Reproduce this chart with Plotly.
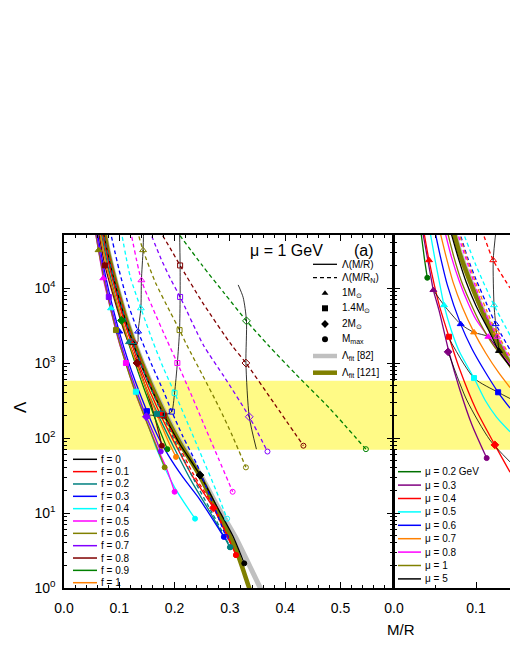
import plotly.graph_objects as go

# ---------------- DATA ----------------
# Left panel (mu = 1 GeV): Lambda vs M/R (solid) and vs M/R_N (dashed) for DM fraction f
F_LABELS = ["f = 0", "f = 0.1", "f = 0.2", "f = 0.3", "f = 0.4", "f = 0.5",
            "f = 0.6", "f = 0.7", "f = 0.8", "f = 0.9", "f = 1"]
F_COLORS = ["#000000", "#FF0000", "#008080", "#0000FF", "#00FFFF", "#FF00FF",
            "#808000", "#8000FF", "#800000", "#008000", "#FF8000"]

F00_X = [0.070, 0.080, 0.090, 0.100, 0.115, 0.130, 0.150, 0.170, 0.190, 0.210, 0.246, 0.280, 0.305, 0.326]
F00_L = [60000, 26900, 13300, 7060, 3050, 1460, 620, 293, 150, 82, 32, 11, 5, 2.13]
F01_X = [0.068, 0.080, 0.095, 0.115, 0.140, 0.170, 0.200, 0.230, 0.270, 0.311]
F01_L = [60000, 22900, 8200, 2600, 790, 240, 86, 33, 11.7, 2.75]
F02_X = [0.066, 0.080, 0.095, 0.115, 0.140, 0.170, 0.200, 0.230, 0.265, 0.300]
F02_L = [60000, 19000, 6800, 2160, 660, 205, 72, 27, 10, 3.5]
F03_X = [0.0593, 0.070, 0.080, 0.090, 0.100, 0.115, 0.130, 0.150, 0.170, 0.188, 0.215, 0.246, 0.289]
F03_L = [60000, 22100, 9900, 4900, 2600, 1120, 540, 228, 105, 60, 30, 15, 4.8]
F04_X = [0.0567, 0.065, 0.075, 0.085, 0.100, 0.115, 0.130, 0.150, 0.168, 0.200, 0.237]
F04_L = [60000, 26500, 11200, 5370, 2000, 865, 414, 170, 70, 22, 8.4]
F05_X = [0.056, 0.065, 0.071, 0.080, 0.090, 0.100, 0.112, 0.130, 0.150, 0.170, 0.185, 0.200]
F05_L = [60000, 24500, 13500, 7000, 3480, 1850, 1000, 383, 162, 70, 40, 19.2]
F06_X = [0.0562, 0.0625, 0.075, 0.094, 0.110, 0.130, 0.150, 0.165, 0.182]
F06_L = [60000, 32000, 10700, 2750, 1070, 390, 160, 84, 40.6]
F07_X = [0.0577, 0.065, 0.081, 0.095, 0.110, 0.130, 0.149, 0.162, 0.175]
F07_L = [60000, 29000, 7600, 3000, 1240, 455, 192, 115, 66]
F08_X = [0.0617, 0.074, 0.090, 0.110, 0.132, 0.150, 0.165, 0.177]
F08_L = [60000, 20000, 7500, 2500, 1000, 420, 180, 79]
F09_X = [0.0637, 0.075, 0.090, 0.104, 0.125, 0.145, 0.165, 0.187]
F09_L = [60000, 24000, 8500, 3700, 1200, 450, 180, 71]
F10_X = [0.0642, 0.080, 0.095, 0.115, 0.135, 0.155, 0.175, 0.190, 0.2025]
F10_L = [60000, 16000, 6700, 2150, 820, 350, 155, 86, 56]

D01_X = [0.071, 0.084, 0.100, 0.120, 0.146, 0.176, 0.205, 0.234, 0.272, 0.311]
D02_X = [0.070, 0.085, 0.101, 0.122, 0.148, 0.178, 0.207, 0.236, 0.268, 0.301]
D03_X = [0.083, 0.100, 0.118, 0.134, 0.160, 0.180, 0.195, 0.215, 0.240, 0.265, 0.293]
D03_L = [60000, 17000, 5500, 2630, 900, 420, 225, 105, 45, 16, 4.8]
D04_X = [0.103, 0.120, 0.139, 0.160, 0.180, 0.200, 0.225, 0.250, 0.275, 0.295]
D04_L = [60000, 14000, 5370, 2000, 850, 400, 150, 55, 20, 8.4]
D05_X = [0.120, 0.140, 0.160, 0.185, 0.205, 0.230, 0.255, 0.280, 0.305]
D05_L = [60000, 12700, 5500, 2100, 1000, 380, 140, 52, 19.2]
D06_X = [0.132, 0.143, 0.165, 0.192, 0.209, 0.222, 0.250, 0.280, 0.305, 0.329]
D06_L = [60000, 32000, 12000, 4800, 2750, 1740, 700, 260, 105, 40.6]
D07_X = [0.154, 0.175, 0.192, 0.210, 0.252, 0.290, 0.335, 0.368]
D07_L = [60000, 25000, 13500, 7600, 1740, 650, 192, 66]
D08_X = [0.172, 0.192, 0.210, 0.250, 0.303, 0.329, 0.380, 0.433]
D08_L = [60000, 34000, 20000, 6500, 1740, 1000, 290, 79]
D09_X = [0.202, 0.250, 0.290, 0.330, 0.369, 0.420, 0.480, 0.546]
D09_L = [60000, 20000, 8500, 3650, 1740, 700, 250, 71]

# fits
FIT82_X = [0.073, 0.080, 0.090, 0.100, 0.115, 0.130, 0.150, 0.170, 0.190, 0.210, 0.246, 0.280, 0.310, 0.355, 0.360]
FIT82_L = [60000, 31000, 15500, 8200, 3500, 1700, 720, 340, 170, 90, 33, 11.5, 4.8, 1.0, 0.85]
FIT121_X = [0.072, 0.080, 0.090, 0.100, 0.115, 0.130, 0.150, 0.170, 0.190, 0.210, 0.246, 0.280, 0.310, 0.335, 0.340]
FIT121_L = [60000, 29000, 14500, 7700, 3300, 1600, 680, 320, 160, 85, 31, 9.5, 3.4, 1.0, 0.8]

# GW170817 band
BAND_LO, BAND_HI = 70, 580

# markers, left panel (color index into F_COLORS)
M1_S_C = [0, 1, 2, 3, 4, 5, 6]
M1_S_X = [0.125, 0.121, 0.1175, 0.100, 0.085, 0.071, 0.0625]
M1_S_L = [1850, 1900, 1900, 2630, 5370, 13500, 32000]
M1_D_C = [1, 2, 3, 4, 5, 6]
M1_D_X = [0.127, 0.125, 0.134, 0.139, 0.140, 0.143]
M1_D_L = [1900, 1900, 2630, 5370, 12700, 32000]

M14_S_C = [0, 1, 2, 3, 4, 5, 6, 7, 8]
M14_S_X = [0.180, 0.173, 0.168, 0.150, 0.130, 0.112, 0.094, 0.081, 0.074]
M14_S_L = [200, 205, 210, 228, 414, 1000, 2750, 7600, 20000]
M14_D_C = [1, 2, 3, 4, 5, 6, 7, 8]
M14_D_X = [0.180, 0.177, 0.195, 0.200, 0.205, 0.209, 0.210, 0.210]
M14_D_L = [205, 210, 225, 400, 1000, 2750, 7600, 20000]

M2_S_C = [0, 1, 7, 8, 9]
M2_S_X = [0.246, 0.270, 0.149, 0.132, 0.104]
M2_S_L = [32, 11.7, 192, 1000, 3700]
M2_D_C = [7, 8, 9]
M2_D_X = [0.335, 0.329, 0.330]
M2_D_L = [192, 1000, 3650]

MMAX_S_X = [0.326, 0.311, 0.300, 0.289, 0.237, 0.200, 0.182, 0.175, 0.177, 0.187, 0.2025]
MMAX_S_L = [2.13, 2.75, 3.5, 4.8, 8.4, 19.2, 40.6, 66, 79, 71, 56]
MMAX_D_C = [1, 2, 3, 4, 5, 6, 7, 8, 9]
MMAX_D_X = [0.311, 0.301, 0.293, 0.295, 0.305, 0.329, 0.368, 0.433, 0.546]
MMAX_D_L = [2.75, 3.5, 4.8, 8.4, 19.2, 40.6, 66, 79, 71]

# thin black lines joining equal-mass stars
L1M_X = [0.125, 0.133, 0.134, 0.139, 0.140, 0.143, 0.144]
L1M_L = [1850, 1880, 2630, 5370, 12700, 32000, 60000]
L14_X = [0.148, 0.165, 0.180, 0.190, 0.195, 0.200, 0.205, 0.209, 0.210, 0.210, 0.209]
L14_L = [205, 200, 205, 212, 225, 400, 1000, 2750, 7600, 20000, 60000]
L2M_X = [0.315, 0.324, 0.330, 0.329, 0.335, 0.348]
L2M_L = [11000, 7500, 3650, 1000, 192, 71]

# Right panel: different mu
MU_LABELS = ["μ = 0.2 GeV", "μ = 0.3", "μ = 0.4", "μ = 0.5", "μ = 0.6",
             "μ = 0.7", "μ = 0.8", "μ = 1", "μ = 5"]
MU_COLORS = ["#007000", "#800080", "#FF0000", "#00FFFF", "#0000FF",
             "#FF8000", "#FF00FF", "#808000", "#000000"]
R02_X = [0.0325, 0.037, 0.0406]
R02_L = [60000, 25000, 13700]
R03_X = [0.0345, 0.045, 0.048, 0.055, 0.067, 0.080, 0.095, 0.113]
R03_L = [60000, 14000, 9400, 5000, 1410, 450, 150, 54]
R04_X = [0.036, 0.0427, 0.055, 0.067, 0.080, 0.100, 0.123, 0.1415]
R04_L = [60000, 23500, 6000, 2240, 830, 240, 81, 35]
R05_X = [0.0435, 0.050, 0.055, 0.061, 0.070, 0.080, 0.0976, 0.111, 0.125, 0.1415]
R05_L = [60000, 24000, 12500, 5900, 2700, 1400, 630, 321, 190, 121]
R06_X = [0.0495, 0.057, 0.065, 0.0813, 0.095, 0.110, 0.127, 0.1415]
R06_L = [60000, 25000, 11000, 3300, 1550, 800, 407, 250]
R07_X = [0.0555, 0.064, 0.072, 0.0835, 0.0976, 0.112, 0.127, 0.1415]
R07_L = [60000, 25000, 12000, 5500, 2560, 1350, 760, 470]
R08_X = [0.0615, 0.070, 0.080, 0.090, 0.100, 0.115, 0.130, 0.1415]
R08_L = [60000, 26000, 12000, 6400, 3800, 2240, 1350, 950]
R10_X = [0.0645, 0.073, 0.082, 0.092, 0.105, 0.120, 0.1415]
R10_L = [60000, 26000, 12500, 6800, 3400, 1800, 900]
R50_X = [0.0685, 0.078, 0.088, 0.100, 0.115, 0.128, 0.1415]
R50_L = [60000, 26000, 12000, 5800, 2800, 1450, 900]

RD04_X = [0.107, 0.121, 0.1415]
RD04_L = [60000, 23500, 10000]
RD05_X = [0.083, 0.100, 0.122, 0.1415]
RD05_L = [60000, 20000, 5900, 2350]
RD06_X = [0.079, 0.090, 0.100, 0.112, 0.124, 0.1415]
RD06_L = [60000, 25000, 13000, 6500, 3300, 1500]
RD07_X = [0.078, 0.090, 0.100, 0.113, 0.125, 0.1415]
RD07_L = [60000, 23000, 11500, 5000, 2560, 1250]
RD08_X = [0.076, 0.087, 0.097, 0.110, 0.126, 0.1415]
RD08_L = [60000, 26000, 12500, 5000, 2240, 1150]

R_TRI_S_C = [2, 1, 3, 4, 5, 6, 8]
R_TRI_S_X = [0.0427, 0.048, 0.061, 0.0813, 0.0976, 0.115, 0.128]
R_TRI_S_L = [23500, 9400, 5900, 3300, 2560, 2240, 1450]
R_TRI_D_C = [2, 3, 4, 5, 6]
R_TRI_D_X = [0.121, 0.122, 0.124, 0.125, 0.126]
R_TRI_D_L = [23500, 5900, 3300, 2560, 2240]
R_SQ_C = [2, 3, 4]
R_SQ_X = [0.067, 0.0976, 0.127]
R_SQ_L = [2240, 630, 407]
R_DI_C = [1, 2]
R_DI_X = [0.066, 0.123]
R_DI_L = [1410, 81]
R_MX_C = [0, 1]
R_MX_X = [0.0406, 0.113]
R_MX_L = [13700, 54]

RL1M_X = [0.048, 0.061, 0.0813, 0.0976, 0.115, 0.128]
RL1M_L = [9400, 5900, 3300, 2560, 2240, 1450]
RL1MD_X = [0.1245, 0.121, 0.122, 0.124, 0.125, 0.126, 0.128]
RL1MD_L = [60000, 23500, 5900, 3300, 2560, 2240, 1450]
RL14_X = [0.065, 0.0976, 0.127, 0.1415]
RL14_L = [2340, 630, 407, 336]
RL2M_X = [0.066, 0.0887, 0.117, 0.1415]
RL2M_L = [1410, 321, 94, 48]

# ---------------- FIGURE ----------------
FONT = "Arial, Liberation Sans, sans-serif"
fig = go.Figure()


def curve(x, y, color, xa, ya, dash=None, width=1.3, shape="spline"):
    fig.add_trace(go.Scatter(
        x=x, y=y, mode="lines", xaxis=xa, yaxis=ya, hoverinfo="skip",
        line=dict(color=color, width=width, dash=dash, shape=shape, smoothing=0.7)))


def marks(x, y, colors, symbol, xa, ya, size=5, open_=False):
    fig.add_trace(go.Scatter(
        x=x, y=y, mode="markers", xaxis=xa, yaxis=ya, hoverinfo="skip",
        marker=dict(symbol=symbol + ("-open" if open_ else ""), size=size,
                    color=colors, line=dict(color=colors, width=1))))


DASH = "4px,3px"

# yellow band
for xa, ya, xr in (("x", "y", 0.6), ("x2", "y2", 0.16)):
    fig.add_trace(go.Scatter(x=[0, xr, xr, 0, 0], y=[BAND_LO, BAND_LO, BAND_HI, BAND_HI, BAND_LO],
                             mode="lines", fill="toself", fillcolor="#FFFA86",
                             line=dict(width=0, color="#FFFA86"), xaxis=xa, yaxis=ya, hoverinfo="skip"))

# fit lines in both panels
for xa, ya in (("x", "y"), ("x2", "y2")):
    curve(FIT82_X, FIT82_L, "#C0C0C0", xa, ya, width=5)
    curve(FIT121_X, FIT121_L, "#808000", xa, ya, width=4.5)

# left panel curves
SOLID = [(F00_X, F00_L), (F01_X, F01_L), (F02_X, F02_L), (F03_X, F03_L), (F04_X, F04_L),
         (F05_X, F05_L), (F06_X, F06_L), (F07_X, F07_L), (F08_X, F08_L), (F09_X, F09_L),
         (F10_X, F10_L)]
DASHED = [(1, D01_X, F01_L), (2, D02_X, F02_L), (3, D03_X, D03_L), (4, D04_X, D04_L),
          (5, D05_X, D05_L), (6, D06_X, D06_L), (7, D07_X, D07_L), (8, D08_X, D08_L),
          (9, D09_X, D09_L)]
for i, (xs, ls) in enumerate(SOLID):
    curve(xs, ls, F_COLORS[i], "x", "y")
for i, xs, ls in DASHED:
    curve(xs, ls, F_COLORS[i], "x", "y", dash=DASH)

for xs, ls in ((L1M_X, L1M_L), (L14_X, L14_L), (L2M_X, L2M_L)):
    curve(xs, ls, "#000000", "x", "y", width=0.8)

cf = lambda idx: [F_COLORS[i] for i in idx]
marks(M1_S_X, M1_S_L, cf(M1_S_C), "triangle-up", "x", "y", 6)
marks(M1_D_X, M1_D_L, cf(M1_D_C), "triangle-up", "x", "y", 6, True)
marks(M14_S_X, M14_S_L, cf(M14_S_C), "square", "x", "y", 5)
marks(M14_D_X, M14_D_L, cf(M14_D_C), "square", "x", "y", 5, True)
marks(M2_S_X, M2_S_L, cf(M2_S_C), "diamond", "x", "y", 6)
marks(M2_D_X, M2_D_L, cf(M2_D_C), "diamond", "x", "y", 6, True)
marks(MMAX_S_X, MMAX_S_L, F_COLORS, "circle", "x", "y", 5)
marks(MMAX_D_X, MMAX_D_L, cf(MMAX_D_C), "circle", "x", "y", 5, True)

# right panel curves
RSOLID = [(R02_X, R02_L), (R03_X, R03_L), (R04_X, R04_L), (R05_X, R05_L), (R06_X, R06_L),
          (R07_X, R07_L), (R08_X, R08_L), (R10_X, R10_L), (R50_X, R50_L)]
RDASH = [(2, RD04_X, RD04_L), (3, RD05_X, RD05_L), (4, RD06_X, RD06_L),
         (5, RD07_X, RD07_L), (6, RD08_X, RD08_L)]
for i, (xs, ls) in enumerate(RSOLID):
    curve(xs, ls, MU_COLORS[i], "x2", "y2")
for i, xs, ls in RDASH:
    curve(xs, ls, MU_COLORS[i], "x2", "y2", dash=DASH)
for xs, ls in ((RL1M_X, RL1M_L), (RL1MD_X, RL1MD_L), (RL14_X, RL14_L), (RL2M_X, RL2M_L)):
    curve(xs, ls, "#000000", "x2", "y2", width=0.8)
cm = lambda idx: [MU_COLORS[i] for i in idx]
marks(R_TRI_S_X, R_TRI_S_L, cm(R_TRI_S_C), "triangle-up", "x2", "y2", 6)
marks(R_TRI_D_X, R_TRI_D_L, cm(R_TRI_D_C), "triangle-up", "x2", "y2", 6, True)
marks(R_SQ_X, R_SQ_L, cm(R_SQ_C), "square", "x2", "y2", 5)
marks(R_DI_X, R_DI_L, cm(R_DI_C), "diamond", "x2", "y2", 6)
marks(R_MX_X, R_MX_L, cm(R_MX_C), "circle", "x2", "y2", 5)

# ---------------- legends (drawn in pixel-like overlay axes x3/y3) ----------------
ann = []


def text(x, y, s, size=10, anchor="left"):
    ann.append(dict(x=x, y=y, xref="x3", yref="y3", text=s, showarrow=False,
                    xanchor=anchor, yanchor="middle", font=dict(family=FONT, size=size, color="black")))


def seg(x0, x1, y, color, width=1.5, dash=None):
    fig.add_trace(go.Scatter(x=[x0, x1], y=[y, y], mode="lines", xaxis="x3", yaxis="y3",
                             hoverinfo="skip", line=dict(color=color, width=width, dash=dash)))


for i, (lab, col) in enumerate(zip(F_LABELS, F_COLORS)):
    yy = 459.3 + i * 12.34
    seg(73, 97, yy, col)
    text(99, yy, lab)
for i, (lab, col) in enumerate(zip(MU_LABELS, MU_COLORS)):
    yy = 471.7 + i * 13.4
    seg(398, 421, yy, col)
    text(423, yy, lab)

seg(313, 337, 264.3, "black", 1.3)
text(340, 264.3, "Λ(M/R)")
seg(313, 337, 277.7, "black", 1.3, DASH)
text(340, 277.7, "Λ(M/R<sub>N</sub>)")
for sym, yy, lab in (("triangle-up", 293.3, "1M<sub>⊙</sub>"), ("square", 308.3, "1.4M<sub>⊙</sub>"),
                     ("diamond", 324.0, "2M<sub>⊙</sub>"), ("circle", 339.3, "M<sub>max</sub>")):
    fig.add_trace(go.Scatter(x=[325], y=[yy], mode="markers", xaxis="x3", yaxis="y3", hoverinfo="skip",
                             marker=dict(symbol=sym, size=6, color="black")))
    text(340, yy, lab)
seg(313, 337, 356.0, "#C0C0C0", 4.5)
text(340, 356.0, "Λ<sub>fit</sub> [82]")
seg(313, 337, 372.7, "#808000", 4.5)
text(340, 372.7, "Λ<sub>fit</sub> [121]")
text(286, 250, "μ = 1 GeV", 16, "center")
text(364, 250, "(a)", 16, "center")

ann.append(dict(x=(401 - 64) / 446, y=(588 - 629) / 353, xref="paper", yref="paper", text="M/R",
                xanchor="center", yanchor="middle",
                showarrow=False, font=dict(family=FONT, size=15, color="black")))
ann.append(dict(x=(20 - 64) / 446, y=(588 - 407) / 353, xref="paper", yref="paper", text="Λ",
                xanchor="center", yanchor="middle",
                showarrow=False, textangle=-90, font=dict(family=FONT, size=17, color="black")))

# ---------------- axes ----------------
YT = [1, 10, 100, 1000, 10000]
YTT = ["10<sup>0</sup>", "10<sup>1</sup>", "10<sup>2</sup>", "10<sup>3</sup>", "10<sup>4</sup>"]
YMINOR = [m * 10 ** e for e in range(0, 5) for m in range(2, 10)]
XT = [0.0, 0.1, 0.2, 0.3, 0.4, 0.5]
XTT = ["0.0", "0.1", "0.2", "0.3", "0.4", "0.5"]

common = dict(showgrid=False, zeroline=False, showline=True, linecolor="black", linewidth=1.5,
              ticks="inside", ticklen=6, tickwidth=1, tickcolor="black",
              tickfont=dict(family=FONT, size=14, color="black"))
ymin = dict(tickmode="array", tickvals=YMINOR, ticks="inside", ticklen=3, tickcolor="black", showgrid=False)

fig.update_layout(
    width=510, height=660, margin=dict(l=64, r=0, t=235, b=72),
    paper_bgcolor="white", plot_bgcolor="rgba(0,0,0,0)", showlegend=False,
    xaxis=dict(domain=[0, 329 / 446], range=[0, 0.595], tickmode="array", tickvals=XT, ticktext=XTT,
               mirror="allticks", anchor="y", ticklabelstandoff=6,
               minor=dict(dtick=0.02, tick0=0, ticks="inside", ticklen=3, tickcolor="black", showgrid=False),
               **common),
    yaxis=dict(domain=[0, 1], type="log", range=[0, 4.707], tickmode="array", tickvals=YT, ticktext=YTT,
               mirror="allticks", anchor="x", minor=ymin, ticklabelstandoff=4, **common),
    xaxis2=dict(domain=[330 / 446, 1], range=[0, 0.14146], tickmode="array", tickvals=[0.0, 0.1],
                ticktext=["0.0", "0.1"], mirror="allticks", anchor="y2", ticklabelstandoff=6,
                minor=dict(dtick=0.05, tick0=0, ticks="inside", ticklen=3, tickcolor="black", showgrid=False),
                **common),
    yaxis2=dict(domain=[0, 1], type="log", range=[0, 4.707], tickmode="array", tickvals=YT,
                showticklabels=False, mirror=False, anchor="x2", minor=ymin, **common),
    xaxis3=dict(domain=[0, 1], range=[64, 510], visible=False, anchor="y3"),
    yaxis3=dict(domain=[0, 1], range=[588, 235], visible=False, anchor="x3"),
    annotations=ann,
)

fig.write_html("out.html", config={"displayModeBar": False},
               post_script="document.body.style.margin='0px';document.body.style.overflow='hidden';")
